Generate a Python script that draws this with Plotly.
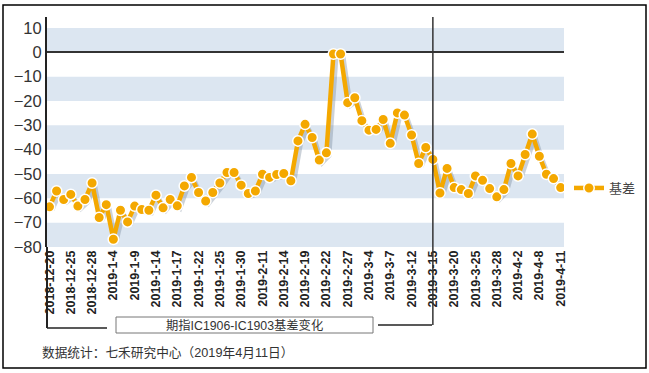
import plotly.graph_objects as go

dates = ["2018-12-20","2018-12-21","2018-12-24","2018-12-25","2018-12-26","2018-12-27","2018-12-28",
         "2019-1-2","2019-1-3","2019-1-4","2019-1-7","2019-1-8","2019-1-9","2019-1-10","2019-1-11",
         "2019-1-14","2019-1-15","2019-1-16","2019-1-17","2019-1-18","2019-1-21","2019-1-22","2019-1-23",
         "2019-1-24","2019-1-25","2019-1-28","2019-1-29","2019-1-30","2019-1-31","2019-2-1",
         "2019-2-11","2019-2-12","2019-2-13","2019-2-14","2019-2-15","2019-2-18","2019-2-19","2019-2-20",
         "2019-2-21","2019-2-22","2019-2-25","2019-2-26","2019-2-27","2019-2-28","2019-3-1",
         "2019-3-4","2019-3-5","2019-3-6","2019-3-7","2019-3-8","2019-3-11","2019-3-12","2019-3-13",
         "2019-3-14","2019-3-15","2019-3-18","2019-3-19","2019-3-20","2019-3-21","2019-3-22","2019-3-25",
         "2019-3-26","2019-3-27","2019-3-28","2019-3-29","2019-4-1","2019-4-2","2019-4-3","2019-4-4",
         "2019-4-8","2019-4-9","2019-4-10","2019-4-11"]

basis = [-63.5,-57.0,-60.5,-58.4,-63.2,-60.5,-53.7,-67.9,-62.6,-76.8,-64.9,-69.7,-63.2,-64.6,-64.9,
         -58.7,-63.9,-60.5,-63.1,-54.9,-51.4,-57.6,-61.1,-57.6,-53.7,-49.4,-49.4,-54.6,-58.0,-57.0,
         -50.1,-51.4,-50.2,-49.8,-52.8,-36.4,-29.6,-35.0,-44.3,-41.3,-0.7,-0.7,-20.7,-18.7,-28.1,
         -32.0,-31.7,-27.6,-37.4,-24.9,-25.8,-34.0,-45.7,-39.1,-44.0,-57.8,-47.7,-55.6,-56.4,-58.0,
         -50.8,-52.6,-56.0,-59.4,-56.4,-45.7,-50.8,-42.0,-33.6,-42.7,-50.1,-51.9,-55.6]

tick_labels = dates[::3]
y_ticks = [10, 0, -10, -20, -30, -40, -50, -60, -70, -80]
bands = [(10, 0), (-10, -20), (-30, -40), (-50, -60), (-70, -80)]
series_name = "基差"
box_title = "期指IC1906-IC1903基差变化"
source_text = "数据统计：七禾研究中心（2019年4月11日）"
split_date = "2019-3-15"

W, H = 649, 373
L, R, T, B = 47, 85, 17, 126
PW, PH = W - L - R, H - T - B
xr = [-0.35, 72.47]
yr = [-80, 14.5]

ORANGE = "#F4A800"
FONT = "Arial, Liberation Sans, Noto Sans CJK SC"

fig = go.Figure()

# shadow trace on shifted hidden axes (x / y); main trace on visible axes (x2 / y2)
sx, sy = 3, 3
fig.add_trace(go.Scatter(
    x=dates, y=basis, mode="lines", xaxis="x", yaxis="y",
    line=dict(color="rgba(110,125,145,0.35)", width=4), showlegend=False, hoverinfo="skip"))

fig.add_trace(go.Scatter(
    x=dates, y=basis, mode="lines+markers", name=series_name, xaxis="x2", yaxis="y2",
    line=dict(color=ORANGE, width=4.5),
    marker=dict(size=10.5, color=ORANGE, line=dict(color="white", width=1.5))))

shapes = []
for a, b in bands:
    shapes.append(dict(type="rect", xref="paper", yref="y2", x0=0, x1=1, y0=b, y1=a,
                       fillcolor="#DCE6F1", line=dict(width=0), layer="below"))

def py(Y):
    return (T + PH - Y) / PH

def px(X):
    return (X - L) / PW

# left bracket
shapes.append(dict(type="line", xref="paper", yref="paper", x0=0, x1=0, y0=0, y1=py(328),
                   line=dict(color="#222", width=2)))
shapes.append(dict(type="line", xref="paper", yref="paper", x0=0, x1=px(107), y0=py(328), y1=py(328),
                   line=dict(color="#222", width=1.5)))
# right split line
shapes.append(dict(type="line", xref="x2", yref="paper", x0=split_date, x1=split_date, y0=1, y1=py(325),
                   line=dict(color="#333", width=1.5)))
shapes.append(dict(type="line", xref="paper", yref="paper", x0=px(378), x1=px(432), y0=py(325), y1=py(325),
                   line=dict(color="#222", width=1.5)))
# title box
shapes.append(dict(type="rect", xref="paper", yref="paper", x0=px(116), x1=px(373), y0=py(333), y1=py(317),
                   line=dict(color="#777", width=1), fillcolor="white"))
# outer border
shapes.append(dict(type="rect", xref="paper", yref="paper", x0=px(3), x1=px(646), y0=py(368), y1=py(5),
                   line=dict(color="black", width=1.5)))

annotations = [
    dict(text=box_title, xref="paper", yref="paper", x=px(244), y=py(325), showarrow=False,
         font=dict(family=FONT, size=12.3, color="#333"), xanchor="center", yanchor="middle"),
    dict(text=source_text, xref="paper", yref="paper", x=px(40), y=py(353), showarrow=False,
         font=dict(family=FONT, size=12.7, color="#333"), xanchor="left", yanchor="middle"),
]

fig.update_layout(
    width=W, height=H, margin=dict(l=L, r=R, t=T, b=B, autoexpand=False),
    paper_bgcolor="white", plot_bgcolor="rgba(0,0,0,0)",
    font=dict(family=FONT),
    xaxis2=dict(type="category", categoryorder="array", categoryarray=dates, range=xr,
                domain=[0, 1], anchor="y2",
                tickmode="array", tickvals=tick_labels, ticktext=tick_labels, tickangle=-90,
                tickfont=dict(size=12.5, color="#222", weight="bold"), ticks="", showgrid=False,
                showline=False, zeroline=False),
    yaxis2=dict(range=yr, domain=[0, 1], anchor="x2", tickmode="array", tickvals=y_ticks, ticks="",
                showgrid=False, tickfont=dict(size=16.5, color="#333"), showline=True, linecolor="#222",
                linewidth=2, zeroline=True, zerolinecolor="#333", zerolinewidth=1.5),
    xaxis=dict(type="category", categoryorder="array", categoryarray=dates,
               domain=[sx / PW, 1], range=[xr[0], xr[1] - sx * (xr[1] - xr[0]) / PW],
               visible=False, anchor="y"),
    yaxis=dict(domain=[0, 1 - sy / PH], range=[yr[0] + sy * (yr[1] - yr[0]) / PH, yr[1]],
               visible=False, anchor="x", zeroline=False, showgrid=False),
    showlegend=True,
    legend=dict(xref="container", yref="container", x=569 / W, y=1 - 188 / H,
                xanchor="left", yanchor="middle", bgcolor="rgba(0,0,0,0)",
                font=dict(family=FONT, size=13, color="#444")),
    shapes=shapes, annotations=annotations,
)

fig.write_html("out.html", config={"displayModeBar": False},
               post_script="document.body.style.margin='0';document.body.style.overflow='hidden';")
